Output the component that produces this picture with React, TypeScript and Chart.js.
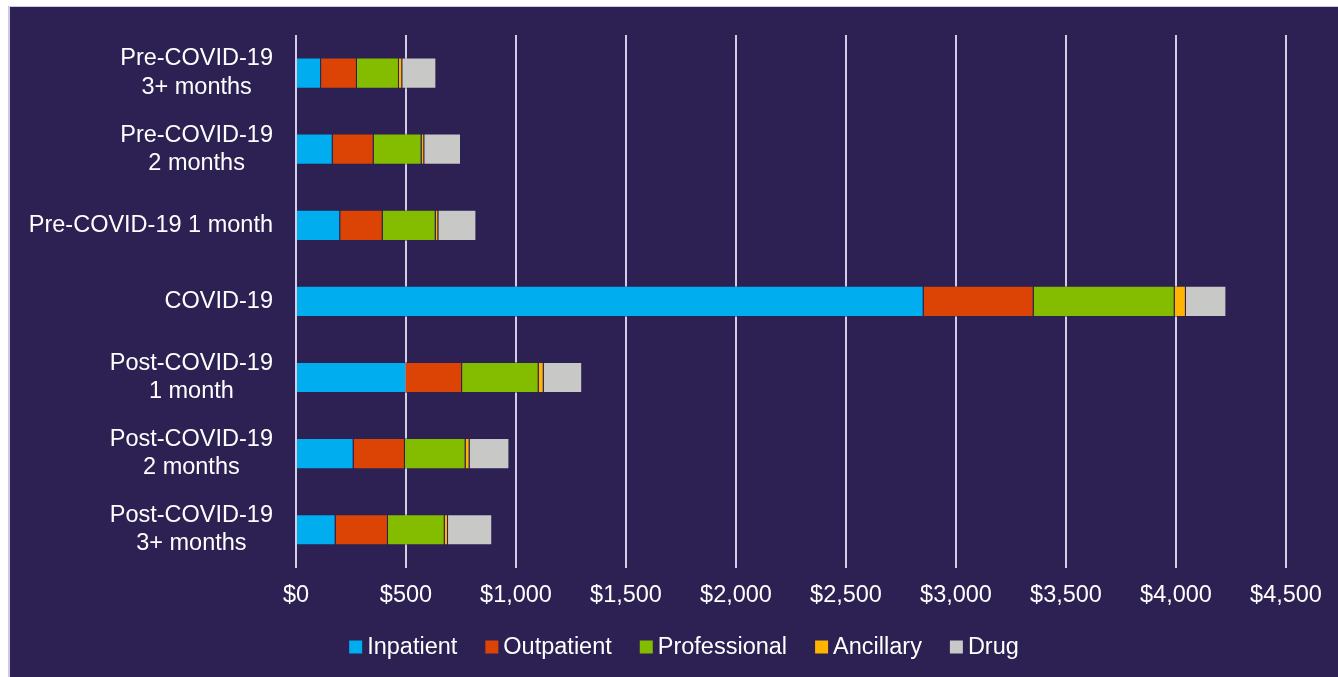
import React, { useEffect, useRef } from "react";
import { Chart, registerables } from "chart.js";

Chart.register(...registerables);

const categories: string[][] = [
  ["Pre-COVID-19", "3+ months"],
  ["Pre-COVID-19", "2 months"],
  ["Pre-COVID-19 1 month"],
  ["COVID-19"],
  ["Post-COVID-19", "1 month"],
  ["Post-COVID-19", "2 months"],
  ["Post-COVID-19", "3+ months"],
];

const inpatient = [114, 167, 201, 2853, 500, 262, 180];
const outpatient = [163, 186, 193, 500, 255, 233, 238];
const professional = [191, 218, 241, 641, 348, 276, 258];
const ancillary = [15, 12, 12, 51, 23, 18, 15];
const drug = [155, 167, 173, 184, 175, 181, 201];

const seriesNames = ["Inpatient", "Outpatient", "Professional", "Ancillary", "Drug"];
const seriesColors = ["#00AEEF", "#DC4405", "#84BD00", "#FFB500", "#C8C8C6"];

const xTickValues = [0, 500, 1000, 1500, 2000, 2500, 3000, 3500, 4000, 4500];

const FONT_FAMILY = "'Liberation Sans', Arial, sans-serif";
const FONT_SIZE = 23.5;
const LINE_H = FONT_SIZE * 1.2;

const yLabelPlugin = {
  id: "yLabels",
  afterDraw(chart: any) {
    const ctx = chart.ctx;
    const yScale = chart.scales.y;
    const right = chart.chartArea.left - 23;
    ctx.save();
    ctx.font = `${FONT_SIZE}px ${FONT_FAMILY}`;
    ctx.fillStyle = "#FFFFFF";
    ctx.textAlign = "center";
    ctx.textBaseline = "middle";
    categories.forEach((lines, i) => {
      const y = yScale.getPixelForTick(i);
      const maxW = Math.max(...lines.map((l) => ctx.measureText(l).width));
      const cx = right - maxW / 2;
      lines.forEach((line, j) => {
        ctx.fillText(line, cx, y + (j - (lines.length - 1) / 2) * LINE_H);
      });
    });
    ctx.restore();
  },
};

const legendPlugin = {
  id: "customLegend",
  afterDraw(chart: any) {
    const ctx = chart.ctx;
    const box = 13;
    const gap = 5;
    const spacing = 28;
    ctx.save();
    ctx.font = `${FONT_SIZE}px ${FONT_FAMILY}`;
    const widths = seriesNames.map((n) => ctx.measureText(n).width);
    const total =
      widths.reduce((a, b) => a + b, 0) + seriesNames.length * (box + gap) + (seriesNames.length - 1) * spacing;
    let x = 674 - total / 2;
    const cy = 640;
    ctx.textBaseline = "middle";
    ctx.textAlign = "left";
    seriesNames.forEach((name, i) => {
      ctx.fillStyle = seriesColors[i];
      ctx.fillRect(x, cy - box / 2, box, box);
      ctx.fillStyle = "#FFFFFF";
      ctx.fillText(name, x + box + gap, cy + 1);
      x += box + gap + widths[i] + spacing;
    });
    ctx.restore();
  },
};

export default function App() {
  const canvasRef = useRef<HTMLCanvasElement | null>(null);

  useEffect(() => {
    if (!canvasRef.current) return;
    const values = [inpatient, outpatient, professional, ancillary, drug];
    const chart = new Chart(canvasRef.current, {
      type: "bar",
      data: {
        labels: categories,
        datasets: seriesNames.map((name, i) => ({
          label: name,
          data: values[i],
          backgroundColor: seriesColors[i],
          borderColor: "rgba(40,30,80,0.45)",
          borderWidth: { top: 1, bottom: 1, right: 1, left: 0 },
          borderSkipped: false,
          categoryPercentage: 0.5,
          barPercentage: 0.82,
        })),
      },
      options: {
        indexAxis: "y",
        animation: false,
        responsive: false,
        maintainAspectRatio: false,
        layout: { padding: { top: 28, right: 52, bottom: 53, left: 0 } },
        plugins: {
          legend: { display: false },
          tooltip: { enabled: false },
          title: { display: false },
        },
        scales: {
          x: {
            stacked: true,
            min: 0,
            max: 4500,
            afterBuildTicks(scale: any) {
              scale.ticks = xTickValues.map((v) => ({ value: v }));
            },
            grid: {
              color: "#D3CCE6",
              lineWidth: 2,
              drawTicks: false,
            },
            border: { display: false },
            ticks: {
              color: "#FFFFFF",
              padding: 14,
              maxRotation: 0,
              autoSkip: false,
              font: { family: FONT_FAMILY, size: FONT_SIZE },
              callback: (v: any) => "$" + Number(v).toLocaleString("en-US"),
            },
          },
          y: {
            stacked: true,
            grid: { display: false },
            border: { display: false },
            ticks: { display: false },
            afterFit(scale: any) {
              scale.width = 286;
            },
          },
        },
      },
      plugins: [yLabelPlugin, legendPlugin],
    } as any);
    return () => chart.destroy();
  }, []);

  return (
    <div
      style={{
        position: "fixed",
        left: 8,
        top: 6,
        width: 1330,
        height: 671,
        background: "#2C2152",
        borderLeft: "2px solid #CFC7E6",
        borderTop: "1px solid #CFC7E6",
        boxSizing: "border-box",
      }}
    >
      <canvas ref={canvasRef} width={1328} height={670} style={{ display: "block", width: 1328, height: 670 }} />
    </div>
  );
}
